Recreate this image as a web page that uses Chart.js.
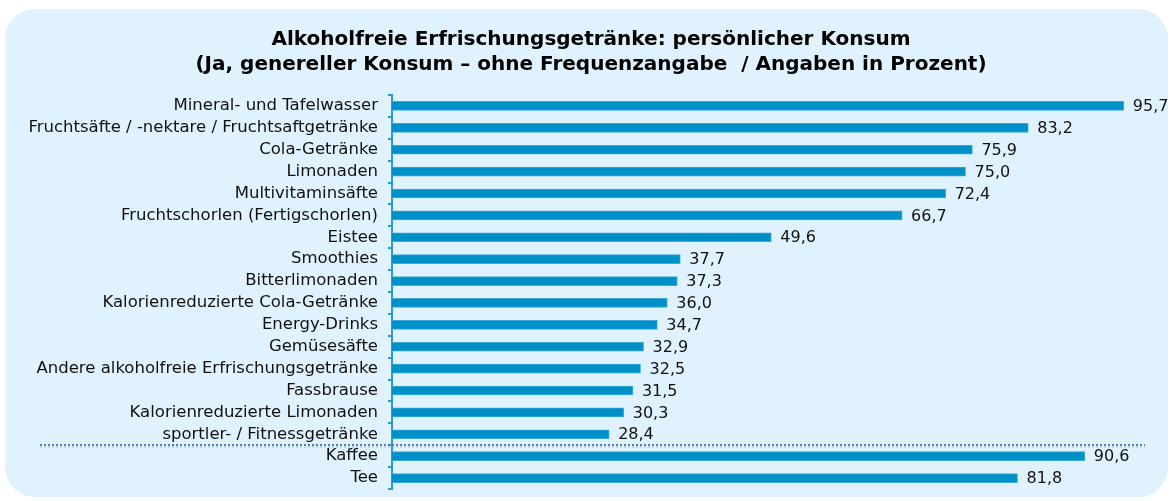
<!DOCTYPE html>
<html>
<head>
<meta charset="utf-8">
<script src="https://cdn.jsdelivr.net/npm/chart.js@4/dist/chart.umd.min.js"></script>
<style>
  html, body { margin: 0; padding: 0; background: #ffffff; }
  #panel {
    position: absolute; left: 5px; top: 9px; width: 1163px; height: 488px;
    background: #dff2fd; border-radius: 30px;
  }
  #wrap { position: absolute; left: 0; top: 0; width: 1172px; height: 501px; }
</style>
</head>
<body>
<div id="panel"></div>
<div id="wrap"><canvas id="myChart" width="1172" height="501"></canvas></div>
<script>
const categories = [
  'Mineral- und Tafelwasser',
  'Fruchtsäfte / -nektare / Fruchtsaftgetränke',
  'Cola-Getränke',
  'Limonaden',
  'Multivitaminsäfte',
  'Fruchtschorlen (Fertigschorlen)',
  'Eistee',
  'Smoothies',
  'Bitterlimonaden',
  'Kalorienreduzierte Cola-Getränke',
  'Energy-Drinks',
  'Gemüsesäfte',
  'Andere alkoholfreie Erfrischungsgetränke',
  'Fassbrause',
  'Kalorienreduzierte Limonaden',
  'sportler- / Fitnessgetränke',
  'Kaffee',
  'Tee'
];
const values = [95.7, 83.2, 75.9, 75.0, 72.4, 66.7, 49.6, 37.7, 37.3, 36.0, 34.7, 32.9, 32.5, 31.5, 30.3, 28.4, 90.6, 81.8];
const titleLines = [
  'Alkoholfreie Erfrischungsgetränke: persönlicher Konsum',
  '(Ja, genereller Konsum \u2013 ohne Frequenzangabe  / Angaben in Prozent)'
];
// the dotted separator goes after this category index
const separatorAfter = 15;

const fmt = (v) => v.toFixed(1).replace('.', ',');

const valueLabels = {
  id: 'valueLabels',
  afterDatasetsDraw(chart) {
    const ctx = chart.ctx;
    const meta = chart.getDatasetMeta(0);
    ctx.save();
    ctx.font = '16px "DejaVu Sans"';
    ctx.fillStyle = '#111111';
    ctx.textBaseline = 'middle';
    ctx.textAlign = 'left';
    meta.data.forEach((bar, i) => {
      ctx.fillText(fmt(values[i]), bar.x + 9, bar.y + 1);
    });
    ctx.restore();
  }
};

const separator = {
  id: 'separator',
  afterDraw(chart) {
    const y = chart.scales.y;
    const py = Math.round((y.getPixelForValue(separatorAfter) + y.getPixelForValue(separatorAfter + 1)) / 2);
    const ctx = chart.ctx;
    ctx.save();
    ctx.lineWidth = 2;
    ctx.setLineDash([2, 2]);
    ctx.strokeStyle = 'rgba(120,120,120,0.22)';
    ctx.beginPath();
    ctx.moveTo(40, py + 2);
    ctx.lineTo(1145, py + 2);
    ctx.stroke();
    ctx.strokeStyle = '#4d7fc4';
    ctx.beginPath();
    ctx.moveTo(40, py);
    ctx.lineTo(1145, py);
    ctx.stroke();
    ctx.restore();
  }
};

new Chart(document.getElementById('myChart'), {
  type: 'bar',
  data: {
    labels: categories,
    datasets: [{
      data: values,
      backgroundColor: '#0090c8',
      borderColor: '#3aa9da',
      borderWidth: 1,
      barThickness: 9
    }]
  },
  options: {
    indexAxis: 'y',
    responsive: false,
    animation: false,
    devicePixelRatio: 1,
    layout: { padding: { left: 10, right: 0, top: 0, bottom: 12 } },
    plugins: {
      legend: { display: false },
      tooltip: { enabled: false },
      title: {
        display: true,
        text: titleLines,
        color: '#000000',
        font: { family: 'DejaVu Sans', size: 20, weight: 'bold', lineHeight: 1.25 },
        padding: { top: 27, bottom: 18 }
      }
    },
    scales: {
      x: {
        display: false,
        min: 0,
        max: 102
      },
      y: {
        afterFit: (scale) => {
          scale.width = 382;
          scale.paddingTop = 0;
          scale.paddingBottom = 0;
        },
        border: { color: '#2a9ad4', width: 2 },
        grid: {
          offset: true,
          drawOnChartArea: false,
          color: '#2a9ad4',
          tickLength: 4,
          lineWidth: 2
        },
        ticks: {
          autoSkip: false,
          color: '#111111',
          padding: 10,
          font: { family: 'DejaVu Sans', size: 16.5 }
        }
      }
    }
  },
  plugins: [valueLabels, separator]
});
</script>
</body>
</html>
